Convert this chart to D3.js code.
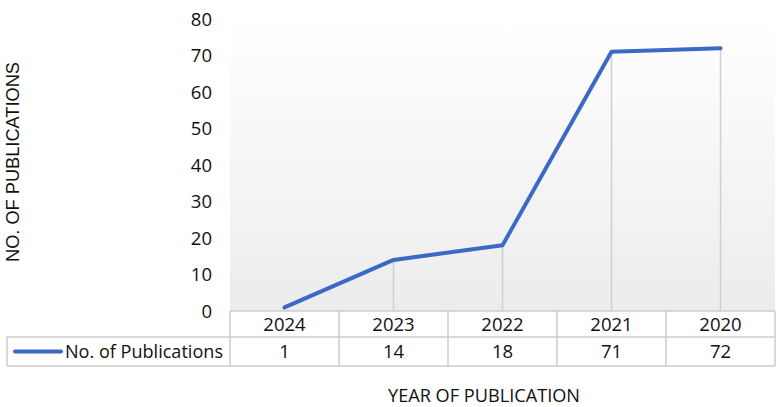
<!DOCTYPE html>
<html><head><meta charset="utf-8">
<script src="https://cdn.jsdelivr.net/npm/d3@7"></script>
<style>body{margin:0;background:#fff}svg{display:block}</style>
</head><body>
<script>
const categories = ["2024", "2023", "2022", "2021", "2020"];
const values = [1, 14, 18, 71, 72];
const yTicks = [0, 10, 20, 30, 40, 50, 60, 70, 80];
const seriesName = "No. of Publications";
const xTitle = "YEAR OF PUBLICATION";
const yTitle = "NO. OF PUBLICATIONS";

const W = 780, H = 407;
const pLeft = 230, pRight = 775, pTop = 19, pBottom = 311;
const font = "'Open Sans', sans-serif";
const svg = d3.select("body").append("svg").attr("width", W).attr("height", H);

const x = d3.scaleBand().domain(categories).range([pLeft, pRight]);
const y = d3.scaleLinear().domain([0, 80]).range([pBottom, pTop]);

const defs = svg.append("defs");
const grad = defs.append("linearGradient").attr("id", "bg").attr("x1", 0).attr("y1", 0).attr("x2", 0).attr("y2", 1);
grad.append("stop").attr("offset", "0%").attr("stop-color", "#ffffff");
grad.append("stop").attr("offset", "100%").attr("stop-color", "#ececec");
svg.append("rect").attr("x", pLeft).attr("y", pTop).attr("width", pRight - pLeft).attr("height", pBottom - pTop).attr("fill", "url(#bg)");

// y tick labels
svg.append("g").selectAll("text").data(yTicks).join("text")
  .attr("x", 212).attr("y", d => y(d)).attr("dy", "0.36em")
  .attr("text-anchor", "end").attr("font-family", font).attr("font-size", 18.5).attr("fill", "#111")
  .text(d => d);

// drop lines
svg.append("g").selectAll("line").data(values).join("line")
  .attr("x1", (d, i) => x(categories[i]) + x.bandwidth() / 2)
  .attr("x2", (d, i) => x(categories[i]) + x.bandwidth() / 2)
  .attr("y1", d => y(d)).attr("y2", pBottom)
  .attr("stroke", "#cfcfcf").attr("stroke-width", 1.5);

// line
const line = d3.line().x((d, i) => x(categories[i]) + x.bandwidth() / 2).y(d => y(d));
svg.append("path").datum(values).attr("d", line).attr("fill", "none")
  .attr("stroke", "#3a69c6").attr("stroke-width", 4).attr("stroke-linejoin", "round").attr("stroke-linecap", "round");

// data table
const rowY = [pBottom, 337, 366];
const tbl = svg.append("g").attr("stroke", "#cccccc").attr("stroke-width", 1.5).attr("fill", "none");
tbl.append("line").attr("x1", pLeft).attr("x2", pRight).attr("y1", rowY[0]).attr("y2", rowY[0]);
tbl.append("line").attr("x1", 7).attr("x2", pRight).attr("y1", rowY[1]).attr("y2", rowY[1]);
tbl.append("line").attr("x1", 7).attr("x2", pRight).attr("y1", rowY[2]).attr("y2", rowY[2]);
tbl.append("line").attr("x1", 7).attr("x2", 7).attr("y1", rowY[1]).attr("y2", rowY[2]);
const bounds = categories.map(c => x(c)).concat([pRight]);
tbl.selectAll("line.v").data(bounds).join("line").attr("class", "v")
  .attr("x1", d => d).attr("x2", d => d).attr("y1", rowY[0]).attr("y2", rowY[2]);

svg.append("g").selectAll("text").data(categories).join("text")
  .attr("x", d => x(d) + x.bandwidth() / 2).attr("y", (rowY[0] + rowY[1]) / 2).attr("dy", "0.36em")
  .attr("text-anchor", "middle").attr("font-family", font).attr("font-size", 18.5).attr("fill", "#111")
  .text(d => d);
svg.append("g").selectAll("text").data(values).join("text")
  .attr("x", (d, i) => x(categories[i]) + x.bandwidth() / 2).attr("y", (rowY[1] + rowY[2]) / 2).attr("dy", "0.36em")
  .attr("text-anchor", "middle").attr("font-family", font).attr("font-size", 18.5).attr("fill", "#111")
  .text(d => d);

// legend key
svg.append("line").attr("x1", 15).attr("x2", 61).attr("y1", 351.5).attr("y2", 351.5)
  .attr("stroke", "#3a69c6").attr("stroke-width", 4).attr("stroke-linecap", "round");
svg.append("text").attr("x", 65).attr("y", 351.5).attr("dy", "0.36em")
  .attr("font-family", font).attr("font-size", 18.5).attr("fill", "#111").attr("textLength", 158)
  .attr("lengthAdjust", "spacingAndGlyphs")
  .text(seriesName);

// axis titles
svg.append("text").attr("x", 484).attr("y", 395).attr("dy", "0.36em").attr("text-anchor", "middle")
  .attr("font-family", font).attr("font-size", 18.5).attr("fill", "#111")
  .attr("textLength", 192).attr("lengthAdjust", "spacingAndGlyphs").text(xTitle);
svg.append("text").attr("transform", "translate(13,162) rotate(-90)").attr("dy", "0.36em")
  .attr("text-anchor", "middle").attr("font-family", "'Liberation Sans', Arial, sans-serif")
  .attr("font-size", 18).attr("fill", "#111")
  .attr("textLength", 200).attr("lengthAdjust", "spacingAndGlyphs").text(yTitle);
</script>
</body></html>
